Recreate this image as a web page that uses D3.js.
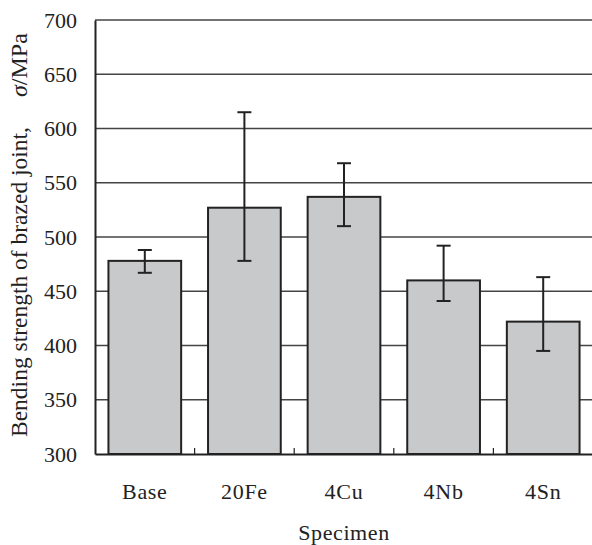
<!DOCTYPE html>
<meta charset="utf-8">
<head>
<style>
  body { margin: 0; background: #fff; }
  text { font-family: "Liberation Serif", "DejaVu Serif", serif; fill: #222; }
  .grid line { stroke: #444; stroke-width: 1.4px; }
</style>
</head>
<body>
<svg id="chart" width="592" height="545"></svg>
<script src="https://d3js.org/d3.v7.min.js"></script>
<script>
var specimens = ["Base", "20Fe", "4Cu", "4Nb", "4Sn"];
var strength = [478, 527, 537, 460, 422];
var errLow = [467, 478, 510, 441, 395];
var errHigh = [488, 615, 568, 492, 463];
var yTicks = [300, 350, 400, 450, 500, 550, 600, 650, 700];

var data = specimens.map(function(s, i) {
  return { key: s, value: strength[i], lo: errLow[i], hi: errHigh[i] };
});

var svg = d3.select("#chart"),
    margin = {top: 20, right: -1, bottom: 91, left: 95},
    width = +svg.attr("width") - margin.left - margin.right,
    height = +svg.attr("height") - margin.top - margin.bottom;

var g = svg.append("g")
    .attr("transform", "translate(" + margin.left + "," + margin.top + ")");

var x = d3.scaleBand().domain(specimens).range([0, width]).paddingInner(0.27).paddingOuter(0.135);
var y = d3.scaleLinear().domain([300, 700]).range([height, 0]);

// gridlines
g.append("g").attr("class", "grid")
  .selectAll("line")
  .data(yTicks.slice(1))
  .enter().append("line")
  .attr("x1", 0).attr("x2", width)
  .attr("y1", function(d) { return y(d); })
  .attr("y2", function(d) { return y(d); });

// bars
g.selectAll(".bar")
  .data(data)
  .enter().append("rect")
  .attr("class", "bar")
  .attr("x", function(d) { return x(d.key); })
  .attr("y", function(d) { return y(d.value); })
  .attr("width", x.bandwidth())
  .attr("height", function(d) { return height - y(d.value); })
  .attr("fill", "#c8c9ca")
  .attr("stroke", "#222")
  .attr("stroke-width", 2);

// error bars
var eb = g.selectAll(".err").data(data).enter().append("g")
  .attr("transform", function(d) { return "translate(" + (x(d.key) + x.bandwidth() / 2) + ",0)"; })
  .attr("stroke", "#222").attr("stroke-width", 2);
eb.append("line").attr("x1", 0).attr("x2", 0)
  .attr("y1", function(d) { return y(d.lo); }).attr("y2", function(d) { return y(d.hi); });
eb.append("line").attr("x1", -7).attr("x2", 7)
  .attr("y1", function(d) { return y(d.lo); }).attr("y2", function(d) { return y(d.lo); });
eb.append("line").attr("x1", -7).attr("x2", 7)
  .attr("y1", function(d) { return y(d.hi); }).attr("y2", function(d) { return y(d.hi); });

// y axis
var yAxis = g.append("g")
  .call(d3.axisLeft(y).tickValues(yTicks).tickSize(0).tickPadding(18));
yAxis.select(".domain").attr("stroke", "#222").attr("stroke-width", 2);
yAxis.selectAll("text").style("font-size", "22px").attr("fill", "#222");

// x axis
var xAxis = g.append("g")
  .attr("transform", "translate(0," + height + ")")
  .call(d3.axisBottom(x).tickSize(0).tickPadding(29));
xAxis.select(".domain").attr("stroke", "#222").attr("stroke-width", 2);
xAxis.selectAll("text").style("font-size", "22px").style("letter-spacing", "0.7px").attr("fill", "#222");

// small ticks between categories
var gap = (x.step() - x.bandwidth()) / 2;
g.append("g").selectAll("line")
  .data(specimens.slice(1))
  .enter().append("line")
  .attr("x1", function(d) { return x(d) - gap; })
  .attr("x2", function(d) { return x(d) - gap; })
  .attr("y1", height).attr("y2", height - 6)
  .attr("stroke", "#222").attr("stroke-width", 1.2);

// axis titles
svg.append("text")
  .attr("x", 344)
  .attr("y", 540)
  .attr("text-anchor", "middle")
  .style("font-size", "22px")
  .style("letter-spacing", "0.6px")
  .text("Specimen");

svg.append("text")
  .attr("transform", "translate(27,437) rotate(-90)")
  .attr("text-anchor", "start")
  .style("font-size", "23.5px")
  .text("Bending strength of brazed joint,");

var yt2 = svg.append("text")
  .attr("transform", "translate(27,97) rotate(-90)")
  .attr("text-anchor", "start")
  .style("font-size", "24px");
yt2.append("tspan").style("font-style", "italic").text("σ");
yt2.append("tspan").text("/MPa");
</script>
</body>
</html>
